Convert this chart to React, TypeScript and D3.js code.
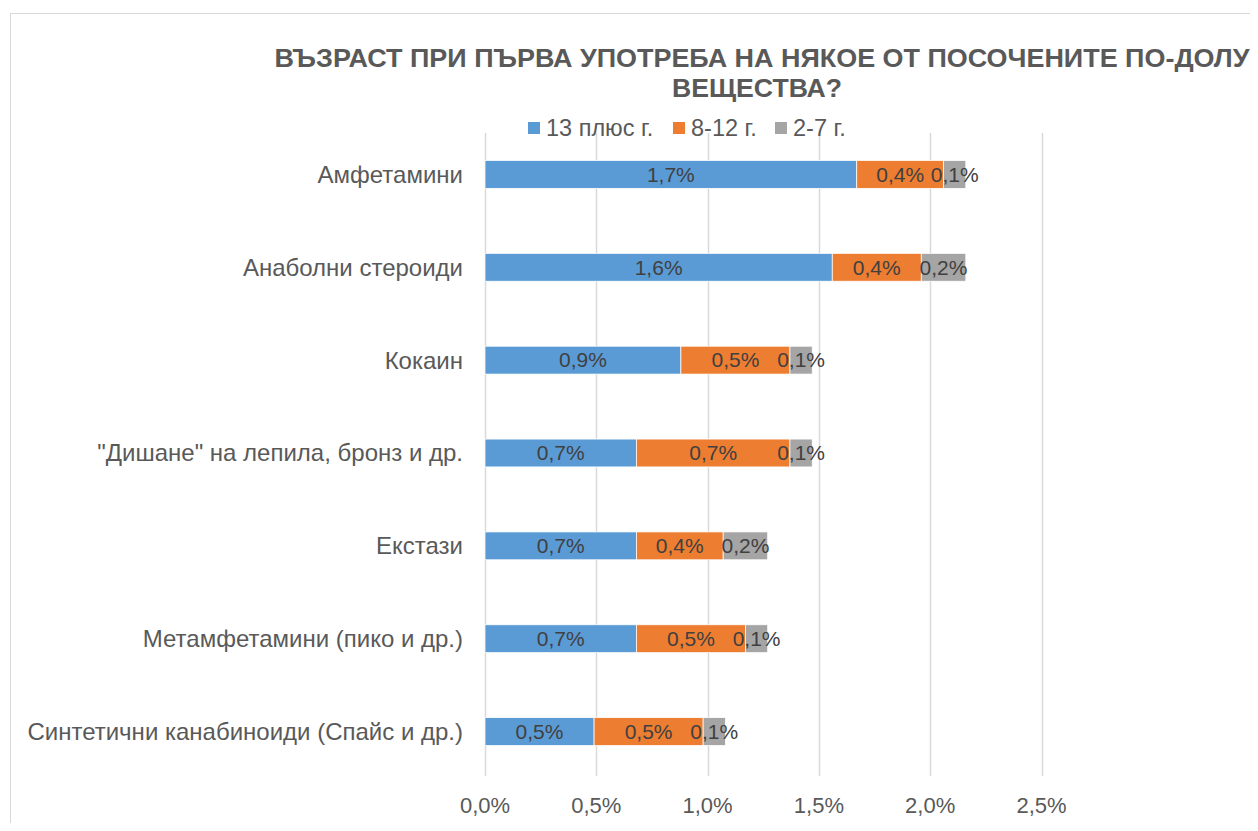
import React, { useEffect, useRef } from 'react';
import * as d3 from 'd3';

const categories = [
  'Амфетамини',
  'Анаболни стероиди',
  'Кокаин',
  '"Дишане" на лепила, бронз и др.',
  'Екстази',
  'Метамфетамини (пико и др.)',
  'Синтетични канабиноиди (Спайс и др.)',
];
const seriesNames = ['13 плюс г.', '8-12 г.', '2-7 г.'];
const plus13 = [1.67, 1.56, 0.88, 0.68, 0.68, 0.68, 0.49];
const age8to12 = [0.39, 0.4, 0.49, 0.69, 0.39, 0.49, 0.49];
const age2to7 = [0.1, 0.2, 0.1, 0.1, 0.2, 0.1, 0.1];
const xTicks = [0, 0.5, 1, 1.5, 2, 2.5];
const colors = ['#5b9bd5', '#ed7d31', '#a5a5a5'];

const fmt = (v: number) => v.toFixed(1).replace('.', ',') + '%';

export default function App() {
  const svgRef = useRef<SVGSVGElement>(null);

  useEffect(() => {
    if (!svgRef.current) return;
    const svg = d3.select(svgRef.current);
    svg.selectAll('*').remove();
    const font = 'Liberation Sans, Arial, sans-serif';

    // chart border
    svg.append('rect')
      .attr('x', 10.5).attr('y', 13.5)
      .attr('width', 1300).attr('height', 900)
      .attr('fill', 'white').attr('stroke', '#d9d9d9');

    // title
    const title = svg.append('text')
      .attr('text-anchor', 'middle')
      .attr('fill', '#595959')
      .style('font-family', font)
      .style('font-size', '25px')
      .style('font-weight', 'bold');
    title.append('tspan').attr('x', 762).attr('y', 67)
      .attr('textLength', 975).attr('lengthAdjust', 'spacingAndGlyphs')
      .text('ВЪЗРАСТ ПРИ ПЪРВА УПОТРЕБА НА НЯКОЕ ОТ ПОСОЧЕНИТЕ ПО-ДОЛУ');
    title.append('tspan').attr('x', 757).attr('y', 97)
      .attr('textLength', 170).attr('lengthAdjust', 'spacingAndGlyphs')
      .text('ВЕЩЕСТВА?');

    const x = d3.scaleLinear().domain([0, 2.5]).range([485, 1041.5]);
    const y = d3.scaleBand<string>().domain(categories).range([128, 778]).paddingInner(0.7).paddingOuter(0.35);

    // gridlines
    svg.append('g').selectAll('line').data(xTicks).enter().append('line')
      .attr('x1', d => Math.round(x(d)) + 0.5).attr('x2', d => Math.round(x(d)) + 0.5)
      .attr('y1', 133).attr('y2', 776)
      .attr('stroke', '#d9d9d9').attr('stroke-width', 1.5);

    // tick labels
    svg.append('g').selectAll('text').data(xTicks).enter().append('text')
      .attr('x', d => x(d)).attr('y', 813)
      .attr('text-anchor', 'middle')
      .attr('fill', '#595959')
      .style('font-family', font).style('font-size', '22px')
      .text(d => fmt(d));

    // category labels
    svg.append('g').selectAll('text').data(categories).enter().append('text')
      .attr('x', 463)
      .attr('y', d => (y(d) as number) + y.bandwidth() / 2)
      .attr('dy', '0.35em')
      .attr('text-anchor', 'end')
      .attr('fill', '#595959')
      .style('font-family', font).style('font-size', '24px')
      .text(d => d);

    const rows = categories.map((c, i) => ({ c, vals: [plus13[i], age8to12[i], age2to7[i]] }));
    const segs: { c: string; s: number; x0: number; x1: number; v: number }[] = [];
    rows.forEach(r => {
      let acc = 0;
      r.vals.forEach((v, s) => {
        segs.push({ c: r.c, s, x0: acc, x1: acc + v, v });
        acc += v;
      });
    });

    svg.append('g').selectAll('rect').data(segs).enter().append('rect')
      .attr('x', d => x(d.x0))
      .attr('y', d => y(d.c) as number)
      .attr('width', d => x(d.x1) - x(d.x0))
      .attr('height', y.bandwidth())
      .attr('fill', d => colors[d.s])
      .attr('stroke', 'white').attr('stroke-width', 0.75);

    svg.append('g').selectAll('text').data(segs).enter().append('text')
      .attr('x', d => (x(d.x0) + x(d.x1)) / 2)
      .attr('y', d => (y(d.c) as number) + y.bandwidth() / 2)
      .attr('dy', '0.35em')
      .attr('text-anchor', 'middle')
      .attr('fill', '#404040')
      .style('font-family', font).style('font-size', '21px')
      .text(d => fmt(d.v));

    // legend
    const legendX = [528, 673, 775];
    const lg = svg.append('g').selectAll('g').data(seriesNames).enter().append('g')
      .attr('transform', (d, i) => `translate(${legendX[i]},128)`);
    lg.append('rect').attr('x', 0).attr('y', -6).attr('width', 12).attr('height', 12)
      .attr('fill', (d, i) => colors[i]);
    lg.append('text').attr('x', 18).attr('y', 0).attr('dy', '0.35em')
      .attr('fill', '#595959')
      .style('font-family', font).style('font-size', '23.5px')
      .text(d => d);
  }, []);

  return (
    <div style={{ margin: -8 }}>
      <svg ref={svgRef} width={1258} height={831} style={{ display: 'block' }} />
    </div>
  );
}
